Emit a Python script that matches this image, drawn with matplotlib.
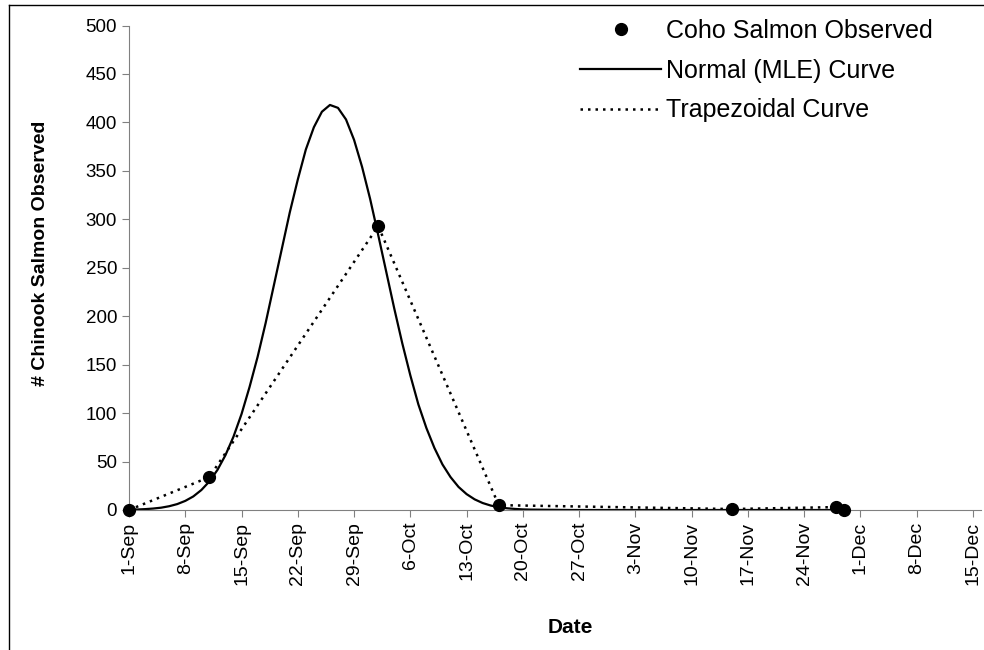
import numpy as np
import matplotlib
matplotlib.use('Agg')
import matplotlib.pyplot as plt
import matplotlib.dates as mdates
from matplotlib.lines import Line2D

# observed counts (days after 1-Sep)
obs_days = [0, 10, 31, 46, 75, 88, 89]
obs_counts = [0, 34, 293, 5, 1, 3, 0]

# normal (MLE) curve, one value per day
curve_days = list(range(0, 51)) + [55, 60, 70, 80, 89]
curve_vals = [0.3, 0.5, 0.9, 1.5, 2.4, 3.9, 6.1, 9.4, 14, 20.6,
              29.5, 41.3, 56.6, 75.7, 99, 127, 158, 193, 231, 269,
              307, 341, 372, 395, 411, 418, 415, 403, 382, 354,
              321, 284, 246, 208, 172, 139, 109, 84.6, 64, 47,
              34, 23.8, 16.4, 11, 7.2, 4.6, 2.9, 1.8, 1.1, 0.6,
              0.4, 0, 0, 0, 0, 0]

start = np.datetime64('2006-09-01')
obs_x = start + np.array(obs_days).astype('timedelta64[D]')
curve_x = start + np.array(curve_days).astype('timedelta64[D]')
tick_x = start + np.arange(0, 106, 7).astype('timedelta64[D]')

plt.rcParams['font.family'] = ['Liberation Sans', 'DejaVu Sans']

fig = plt.figure(figsize=(9.84, 6.5), dpi=100)
ax = fig.add_axes([129 / 984, 140 / 650, 852 / 984, 484.5 / 650])

ax.plot(curve_x, curve_vals, color='black', lw=1.6, label='Normal (MLE) Curve', zorder=2)
ax.plot(obs_x, obs_counts, color='black', lw=1.8, linestyle=(0, (1, 2)),
        label='Trapezoidal Curve', zorder=2)
ax.plot(obs_x, obs_counts, 'o', color='black', ms=8.5, linestyle='none',
        label='Coho Salmon Observed', zorder=3, clip_on=False)

ax.set_xlim(start, start + np.timedelta64(106, 'D'))
ax.set_ylim(0, 500)
ax.set_yticks(np.arange(0, 501, 50))
ax.set_xticks(tick_x)
ax.xaxis.set_major_formatter(mdates.DateFormatter('%-d-%b'))
ax.tick_params(axis='x', labelrotation=90, labelsize=14, length=5, color='#808080')
ax.tick_params(axis='y', labelsize=13.5, length=5, color='#808080')

for s in ['top', 'right']:
    ax.spines[s].set_visible(False)
for s in ['left', 'bottom']:
    ax.spines[s].set_color('#808080')

ax.set_ylabel('# Chinook Salmon Observed', fontsize=14, fontweight='bold')
ax.yaxis.set_label_coords(-0.104, 0.53)
ax.set_xlabel('Date', fontsize=15, fontweight='bold')
ax.xaxis.set_label_coords(0.5176, -0.2435)
ax.xaxis.label.set_va('center')
ax.yaxis.label.set_va('center')

handles, labels = ax.get_legend_handles_labels()
order = [2, 0, 1]
fig.legend([handles[i] for i in order], [labels[i] for i in order],
           loc='upper left', bbox_to_anchor=(580 / 984, 1 - 19 / 650),
           frameon=False, fontsize=18, handlelength=3.25, handletextpad=0.2,
           labelspacing=0.63, borderpad=0, borderaxespad=0)

# chart border
fig.add_artist(Line2D([8.5 / 984, 8.5 / 984], [0, 1 - 5 / 650], color='black', lw=1))
fig.add_artist(Line2D([8.5 / 984, 1], [1 - 5 / 650, 1 - 5 / 650], color='black', lw=1))

fig.savefig('out.png', dpi=100)
